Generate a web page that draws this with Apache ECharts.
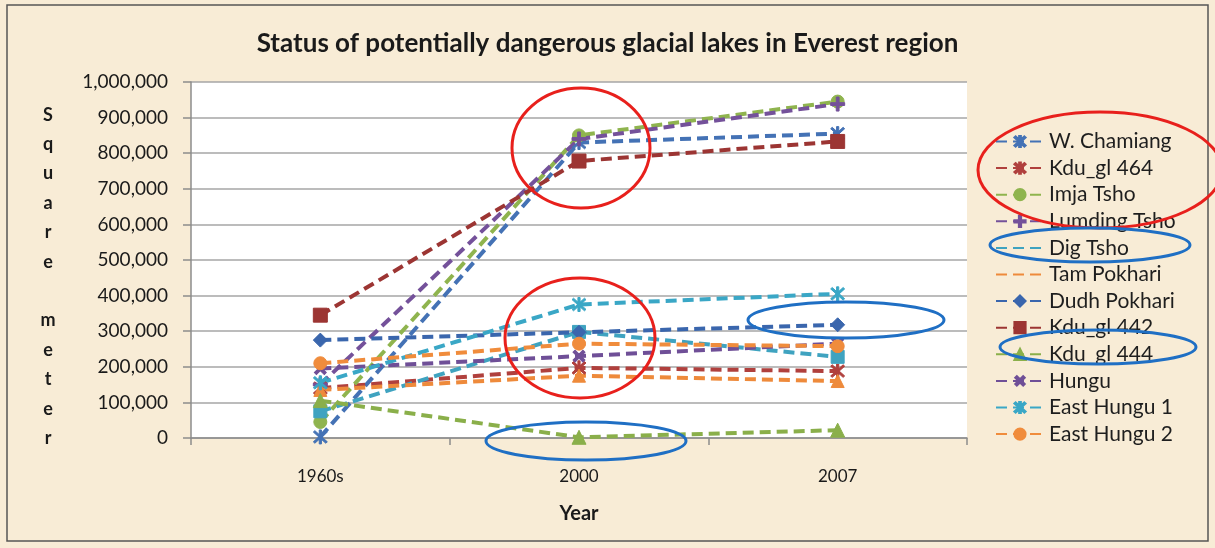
<!DOCTYPE html>
<html>
<head>
<meta charset="utf-8">
<script src="https://cdn.jsdelivr.net/npm/echarts@6/dist/echarts.min.js"></script>
<style>
  html, body { margin: 0; padding: 0; background: #f8ecd6; }
  #chart { width: 1215px; height: 548px; }
</style>
</head>
<body>
<div id="chart"></div>
<script>
  // categories and values (square meter)
  var years = ['1960s', '2000', '2007'];
  var wChamiang = [3000, 830000, 855000];
  var kdu464 = [140000, 197000, 188000];
  var imjaTsho = [45000, 850000, 945000];
  var lumdingTsho = [150000, 840000, 938000];
  var digTsho = [75000, 298000, 228000];
  var tamPokhari = [135000, 175000, 160000];
  var dudhPokhari = [275000, 297000, 318000];
  var kdu442 = [345000, 778000, 833000];
  var kdu444 = [105000, 2000, 22000];
  var hungu = [195000, 230000, 265000];
  var eastHungu1 = [155000, 375000, 405000];
  var eastHungu2 = [210000, 265000, 258000];

  var yMax = 1000000;
  var yStep = 100000;

  // marker shapes like the excel ones
  var plusPath = 'path://M4,0H6V4H10V6H6V10H4V6H0V4H4Z';
  var starPath = 'path://M4.3,0H5.7V10H4.3Z M0.5,1.5L1.5,0.5L9.5,8.5L8.5,9.5Z M8.5,0.5L9.5,1.5L1.5,9.5L0.5,8.5Z';

  var font = 'Lato, "Open Sans", sans-serif';

  function mk(name, data, color, symbol, size, rotate) {
    return {
      name: name,
      type: 'line',
      data: data,
      symbol: symbol,
      symbolSize: size,
      symbolRotate: rotate || 0,
      showSymbol: true,
      color: color,
      lineStyle: { color: color, width: 4, type: [11, 6] },
      itemStyle: { color: color, borderColor: color, borderWidth: 1 },
      emphasis: { disabled: true }
    }
  }

  var series = [
    mk('W. Chamiang', wChamiang, '#4472b5', starPath, 14),
    mk('Kdu_gl 464', kdu464, '#b0403d', starPath, 14),
    mk('Imja Tsho', imjaTsho, '#8fb44e', 'circle', 13),
    mk('Lumding Tsho', lumdingTsho, '#74519a', plusPath, 14),
    mk('Dig Tsho', digTsho, '#3fa3c0', 'rect', 13),
    mk('Tam Pokhari', tamPokhari, '#ee8a3b', 'triangle', 13),
    mk('Dudh Pokhari', dudhPokhari, '#3a66ad', 'diamond', 14),
    mk('Kdu_gl 442', kdu442, '#9c3533', 'rect', 14),
    mk('Kdu_gl 444', kdu444, '#8aaf4a', 'triangle', 14),
    mk('Hungu', hungu, '#6f4f97', plusPath, 14, 45),
    mk('East Hungu 1', eastHungu1, '#3aa7c6', starPath, 14),
    mk('East Hungu 2', eastHungu2, '#f08c3c', 'circle', 13)
  ];

  // Dig Tsho and Tam Pokhari show only the dashes in the legend
  var legendData = series.map(function (s) {
    if (s.name === 'Dig Tsho' || s.name === 'Tam Pokhari') {
      return { name: s.name, itemStyle: { opacity: 0 } }
    }
    return { name: s.name }
  });

  function ell(cx, cy, rx, ry, color) {
    return {
      type: 'ellipse',
      shape: { cx: cx, cy: cy, rx: rx, ry: ry },
      style: { fill: 'none', stroke: color, lineWidth: 3 },
      z: 100
    }
  }

  var chart = echarts.init(document.getElementById('chart'));
  var option = {
    backgroundColor: '#f8ecd6',
    animation: false,
    title: {
      text: 'Status of potentially dangerous glacial lakes in Everest region',
      left: 'center',
      top: 26,
      textStyle: { fontFamily: font, fontWeight: 'bold', fontSize: 26, color: '#1a1a1a' }
    },
    legend: {
      orient: 'vertical',
      left: 990,
      top: 126,
      itemWidth: 48,
      itemHeight: 14,
      itemGap: 5.6,
      data: legendData,
      textStyle: { fontFamily: font, fontSize: 21, color: '#1e1e1e' }
    },
    grid: {
      left: 191,
      right: 248,
      top: 82,
      bottom: 110,
      show: true,
      backgroundColor: '#ffffff',
      borderWidth: 0
    },
    xAxis: {
      type: 'category',
      data: years,
      name: 'Year',
      nameLocation: 'middle',
      nameGap: 66,
      nameTextStyle: { fontFamily: font, fontWeight: 'bold', fontSize: 20, color: '#1a1a1a' },
      axisLine: { lineStyle: { color: '#8c8c8c', width: 1.5 } },
      axisTick: { show: true, length: 7, lineStyle: { color: '#8c8c8c', width: 1.5 } },
      axisLabel: { margin: 30, fontFamily: font, fontSize: 17, color: '#1a1a1a' }
    },
    yAxis: {
      type: 'value',
      min: 0,
      max: yMax,
      interval: yStep,
      axisLine: { show: true, lineStyle: { color: '#8c8c8c', width: 1.5 } },
      axisTick: { show: true, length: 8, lineStyle: { color: '#8c8c8c', width: 1.5 } },
      splitLine: { lineStyle: { color: '#a6a6a6', width: 1.5 } },
      axisLabel: {
        margin: 23,
        fontFamily: font, fontSize: 19, color: '#1a1a1a',
        formatter: function (v) {
          return String(v).replace(/\B(?=(\d{3})+(?!\d))/g, ',')
        }
      }
    },
    graphic: [
      {
        type: 'rect',
        shape: { x: 7, y: 5, width: 1201, height: 536 },
        style: { fill: 'none', stroke: '#555', lineWidth: 1.5 },
        z: 100
      },
      // y axis title, one letter per line
      {
        type: 'text',
        x: 48,
        y: 100,
        style: {
          text: 'S\nq\nu\na\nr\ne\n\nm\ne\nt\ne\nr',
          align: 'center',
          lineHeight: 29.4,
          font: 'bold 18px ' + font,
          fill: '#1a1a1a'
        }
      },
      // annotation circles drawn on the picture
      ell(581, 148, 69, 60, '#e8201c'),
      ell(580, 338, 75, 60, '#e8201c'),
      ell(1100, 170, 122, 58, '#e8201c'),
      ell(1090, 245, 100, 17, '#1f6fc4'),
      ell(1098, 347, 98, 17, '#1f6fc4'),
      ell(846, 320, 98, 18, '#1f6fc4'),
      ell(586, 441, 100, 19, '#1f6fc4')
    ],
    series: series
  };
  chart.setOption(option);
</script>
</body>
</html>
